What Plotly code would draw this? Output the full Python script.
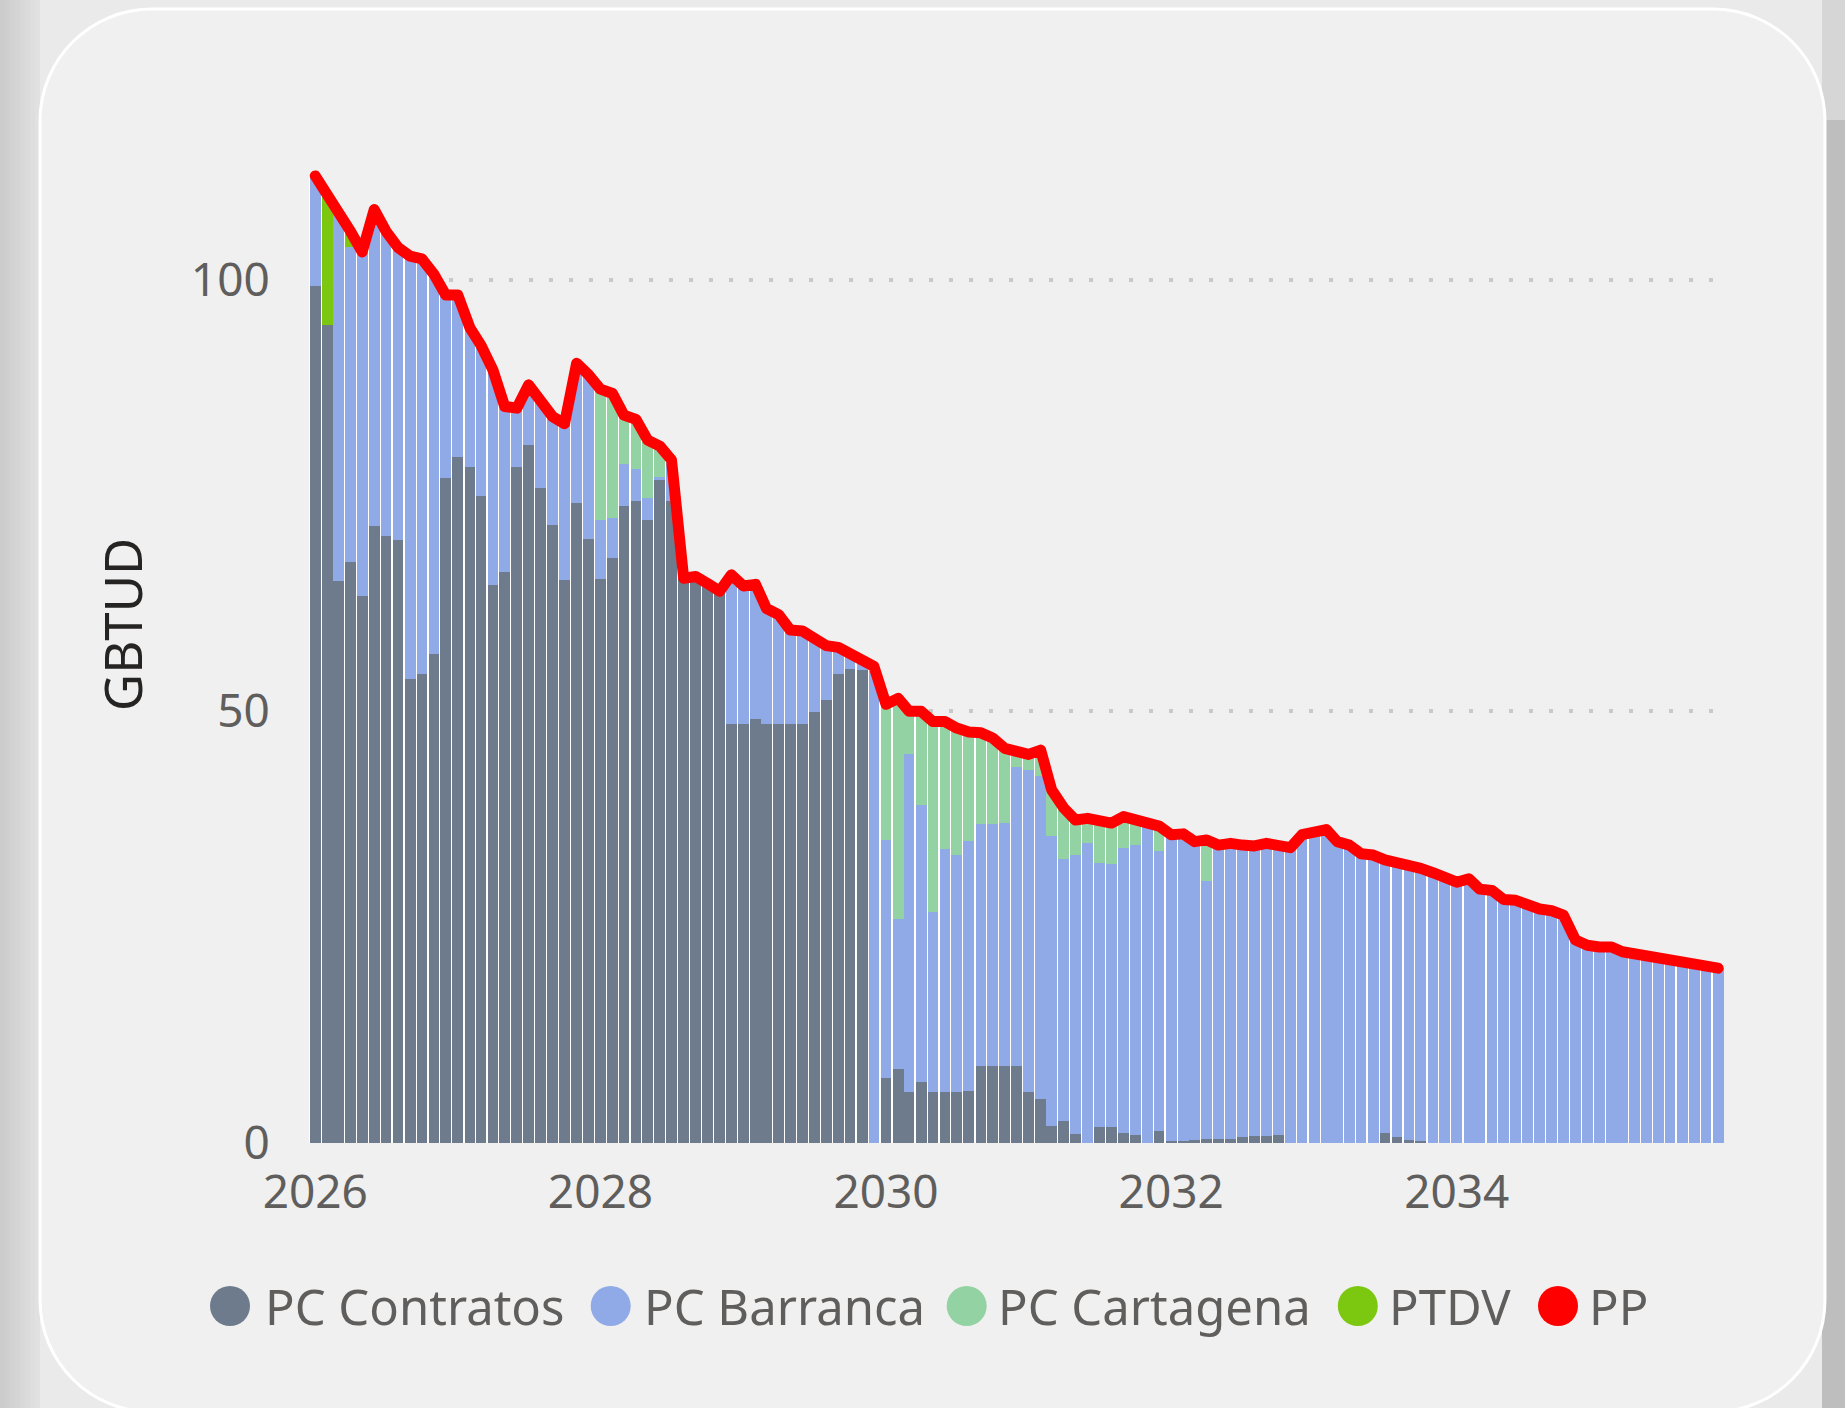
import numpy as np
import pandas as pd
import plotly.graph_objects as go

# ---------------- data (monthly, 2026-01 .. 2035-11) ----------------
months = pd.date_range("2026-01-01", periods=119, freq="MS")

pc_contratos = [
    99.3, 94.7, 65.1, 67.3, 63.4, 71.4, 70.3, 69.8, 53.7, 54.3, 56.6, 77.0,
    79.5, 78.3, 74.9, 64.6, 66.1, 78.3, 80.8, 75.9, 71.6, 65.2, 74.1, 70.0,
    65.3, 67.7, 73.8, 74.3, 72.2, 76.8, 74.3, 65.4, 65.6, 64.8, 63.9, 48.5,
    48.5, 49.1, 48.5, 48.5, 48.5, 48.5, 49.9, 51.3, 54.3, 54.9, 54.8, 0.0,
    7.5, 8.6, 5.9, 7.1, 5.9, 5.9, 5.9, 6.0, 8.9, 8.9, 8.9, 8.9,
    5.9, 5.1, 2.0, 2.5, 1.0, 0.0, 1.9, 1.9, 1.2, 0.9, 0.0, 1.4,
    0.2, 0.2, 0.3, 0.5, 0.5, 0.5, 0.7, 0.8, 0.8, 0.9, 0.05, 0.05,
    0.0, 0.0, 0.0, 0.0, 0.0, 0.0, 1.15, 0.65, 0.3, 0.2, 0.0, 0.0,
    0.0, 0.0, 0.0, 0.0, 0.0, 0.0, 0.0, 0.0, 0.0, 0.0, 0.0, 0.0,
    0.0, 0.0, 0.0, 0.0, 0.0, 0.0, 0.0, 0.0, 0.0, 0.0, 0.0,
]
pc_barranca = [
    12.7, 0.0, 42.6, 36.5, 39.8, 36.7, 35.3, 33.9, 49.0, 48.1, 44.0, 21.2,
    18.7, 16.1, 17.5, 24.9, 19.2, 6.8, 7.0, 9.8, 12.5, 18.1, 16.2, 19.0,
    6.9, 4.7, 4.8, 3.8, 2.5, 0.3, 4.8, 0.0, 0.0, 0.0, 0.0, 17.3,
    16.0, 15.6, 13.4, 12.7, 10.9, 10.8, 8.5, 6.3, 3.1, 1.7, 1.0, 55.2,
    27.6, 17.4, 39.1, 32.1, 20.8, 28.1, 27.4, 29.0, 28.0, 28.1, 28.2, 34.6,
    37.25, 37.35, 33.6, 30.4, 32.4, 34.7, 30.5, 30.4, 33.0, 33.6, 36.85, 32.4,
    35.5, 35.6, 34.6, 29.8, 34.0, 34.2, 33.8, 33.6, 33.9, 33.6, 34.15, 35.65,
    36.0, 36.3, 34.9, 34.5, 33.5, 33.35, 31.65, 31.85, 32.05, 31.6, 31.3, 30.8,
    30.2, 30.6, 29.4, 29.25, 28.2, 28.1, 27.55, 27.1, 26.9, 26.4, 23.5, 22.9,
    22.7, 22.7, 22.15, 21.9, 21.45, 21.5, 21.1, 20.9, 20.7, 20.45, 20.25,
]
pc_cartagena = [
    0, 0, 0, 0, 0, 0, 0, 0, 0, 0, 0, 0,
    0, 0, 0, 0, 0, 0, 0, 0, 0, 0, 0, 0,
    15.1, 14.4, 5.7, 5.7, 6.7, 3.6, 0, 0, 0, 0, 0, 0,
    0, 0, 0, 0, 0, 0, 0, 0, 0, 0, 0, 0,
    15.7, 25.5, 5.0, 10.8, 22.1, 14.8, 14.75, 12.6, 10.6, 9.9, 8.6, 1.85,
    1.85, 3.05, 5.3, 5.9, 4.0, 2.9, 4.8, 4.75, 3.6, 2.9, 0.0, 2.9,
    0, 0, 0, 4.8, 0, 0, 0, 0, 0, 0, 0, 0,
    0, 0, 0, 0, 0, 0, 0, 0, 0, 0, 0, 0,
    0, 0, 0, 0, 0, 0, 0, 0, 0, 0, 0, 0,
    0, 0, 0, 0, 0, 0, 0, 0, 0, 0, 0,
]
ptdv = [0, 15.2, 0, 1.8] + [0] * 115
pp = [
    112.0, 109.9, 107.7, 105.6, 103.2, 108.1, 105.6, 103.7, 102.7, 102.4, 100.6, 98.2,
    98.2, 94.4, 92.4, 89.5, 85.3, 85.1, 87.8, 85.7, 84.1, 83.3, 90.3, 89.0,
    87.3, 86.8, 84.3, 83.8, 81.4, 80.7, 79.1, 65.4, 65.6, 64.8, 63.9, 65.8,
    64.5, 64.7, 61.9, 61.2, 59.4, 59.3, 58.4, 57.6, 57.4, 56.6, 55.8, 55.2,
    50.8, 51.5, 50.0, 50.0, 48.8, 48.8, 48.05, 47.6, 47.5, 46.9, 45.7, 45.35,
    45.0, 45.5, 40.9, 38.8, 37.4, 37.6, 37.2, 37.05, 37.8, 37.4, 36.85, 36.7,
    35.7, 35.8, 34.9, 35.1, 34.5, 34.7, 34.5, 34.4, 34.7, 34.5, 34.2, 35.7,
    36.0, 36.3, 34.9, 34.5, 33.5, 33.35, 32.8, 32.5, 32.35, 31.8, 31.3, 30.8,
    30.2, 30.6, 29.4, 29.25, 28.2, 28.1, 27.55, 27.1, 26.9, 26.4, 23.5, 22.9,
    22.7, 22.7, 22.15, 21.9, 21.45, 21.5, 21.1, 20.9, 20.7, 20.45, 20.25,
]
y_ticks = [0, 50, 100]
legend_names = ["PC Contratos", "PC Barranca", "PC Cartagena", "PTDV", "PP"]

# ---------------- styling ----------------
COLORS = ["#6E7B8C", "#90AAE8", "#93D3A3", "#7CC70F", "#FF0000"]
FONT = "Noto Sans"
W_FIG, H_FIG = 1845, 1408
ML, MT, PW, PH = 309, 150, 1415, 993
MR, MB = W_FIG - ML - PW, H_FIG - MT - PH


def px(x):
    return (x - ML) / PW


def py(y):
    return 1 - (y - MT) / PH


DAY_MS = 86400000
bar_w = 27.5 * DAY_MS
full_w = 31 * DAY_MS

series = [pc_contratos, pc_barranca, pc_cartagena, ptdv]
arr = [np.array(s, dtype=float) for s in series]
bases = [np.zeros(119)]
for a in arr[:-1]:
    bases.append(bases[-1] + a)
total = bases[-1] + arr[-1]

fig = go.Figure()
# white underlay -> white separators between bars
fig.add_trace(go.Bar(x=months, y=total, base=0, width=full_w, marker=dict(color="white", line=dict(width=0)),
                     showlegend=False, hoverinfo="skip"))
for name, a, b, c in zip(legend_names[:4], arr, bases, COLORS[:4]):
    fig.add_trace(go.Bar(x=months, y=a, base=b, width=bar_w, name=name,
                         marker=dict(color=c, line=dict(width=0)), showlegend=False))
fig.add_trace(go.Scatter(x=months, y=pp, mode="lines", name="PP",
                         line=dict(color=COLORS[4], width=11), showlegend=False))

shapes = []
# outer background shading
for k in range(8):
    g = 0xCC + k * 3
    shapes.append(dict(type="rect", xref="paper", yref="paper", layer="below",
                       x0=px(k * 5), x1=px(k * 5 + 5), y0=py(H_FIG), y1=py(0),
                       fillcolor=f"rgb({g},{g},{g})", line=dict(width=0)))
shapes.append(dict(type="rect", xref="paper", yref="paper", layer="below",
                   x0=px(1822), x1=px(W_FIG), y0=py(H_FIG), y1=py(120),
                   fillcolor="#BEBEBE", line=dict(width=0)))
shapes.append(dict(type="rect", xref="paper", yref="paper", layer="below",
                   x0=px(1822), x1=px(W_FIG), y0=py(120), y1=py(0),
                   fillcolor="#D6D6D6", line=dict(width=0)))

# card (rounded rectangle)
x0c, x1c, y0c, y1c, R = 40, 1825, 9, 1412, 112
k = 0.5523 * R
pts = [
    ("M", [(x0c + R, y0c)]), ("L", [(x1c - R, y0c)]),
    ("C", [(x1c - R + k, y0c), (x1c, y0c + R - k), (x1c, y0c + R)]),
    ("L", [(x1c, y1c - R)]),
    ("C", [(x1c, y1c - R + k), (x1c - R + k, y1c), (x1c - R, y1c)]),
    ("L", [(x0c + R, y1c)]),
    ("C", [(x0c + R - k, y1c), (x0c, y1c - R + k), (x0c, y1c - R)]),
    ("L", [(x0c, y0c + R)]),
    ("C", [(x0c, y0c + R - k), (x0c + R - k, y0c), (x0c + R, y0c)]),
]
path = ""
for cmd, ps in pts:
    path += cmd + " " + " ".join(f"{px(a):.6f},{py(b):.6f}" for a, b in ps) + " "
path += "Z"
shapes.append(dict(type="path", xref="paper", yref="paper", layer="below", path=path,
                   fillcolor="#F0F0F0", line=dict(color="white", width=3)))

# custom legend
leg_cx = [230, 610.7, 966.7, 1357.8, 1558]
leg_tx = [263, 642, 996, 1387, 1587]
leg_y = 1306
annotations = []
for name, c, cx, tx in zip(legend_names, COLORS, leg_cx, leg_tx):
    shapes.append(dict(type="circle", xref="paper", yref="paper",
                       x0=px(cx - 20), x1=px(cx + 20), y0=py(leg_y + 20), y1=py(leg_y - 20),
                       fillcolor=c, line=dict(width=0)))
    annotations.append(dict(text=name, xref="paper", yref="paper", x=px(tx), y=py(leg_y),
                            xanchor="left", yanchor="middle", showarrow=False,
                            font=dict(family=FONT, size=49, color="#605E5C")))
annotations.append(dict(text="GBTUD", xref="paper", yref="paper", x=px(122), y=py(625),
                        xanchor="center", yanchor="middle", textangle=-90, showarrow=False,
                        font=dict(family=FONT, size=51, color="#252423")))

fig.update_layout(
    width=W_FIG, height=H_FIG,
    margin=dict(l=ML, r=MR, t=MT, b=MB, autoexpand=False),
    paper_bgcolor="#EAEAEA", plot_bgcolor="rgba(0,0,0,0)",
    barmode="overlay", bargap=0,
    showlegend=False,
    shapes=shapes, annotations=annotations,
    font=dict(family=FONT, color="#605E5C"),
)
fig.update_xaxes(
    type="date", range=["2025-12-16", "2035-11-16"],
    tick0="2026-01-01", dtick="M24", tickformat="%Y",
    showgrid=False, zeroline=False, showline=False,
    ticks="outside", ticklen=9, tickcolor="rgba(0,0,0,0)",
    tickfont=dict(family=FONT, size=46, color="#605E5C"),
)
fig.update_yaxes(
    range=[0, 115], tickvals=y_ticks,
    showgrid=True, gridcolor="#C9C9C9", gridwidth=3.5, griddash="3.5px,16.5px",
    zeroline=False, showline=False,
    ticks="outside", ticklen=29, tickcolor="rgba(0,0,0,0)",
    tickfont=dict(family=FONT, size=46, color="#605E5C"),
)

post = """
document.body.style.margin='0';
document.querySelectorAll('.scatterlayer .js-line').forEach(function(p){
  p.style.strokeLinejoin='round'; p.style.strokeLinecap='round';});
"""
fig.write_html("out.html", post_script=post, config={"displayModeBar": False})
